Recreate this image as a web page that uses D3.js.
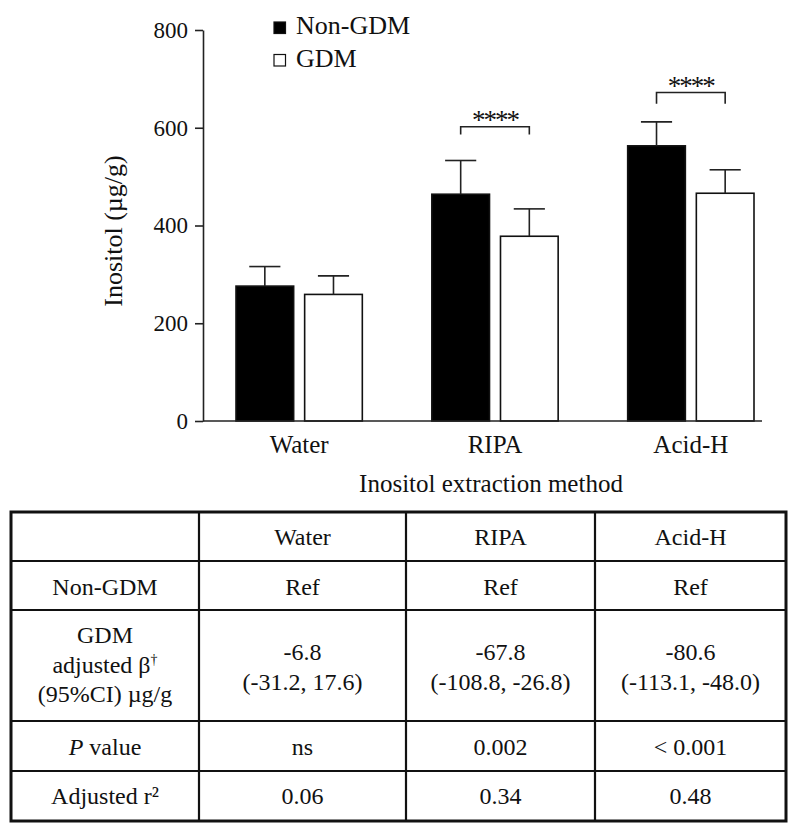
<!DOCTYPE html>
<html><head><meta charset="utf-8">
<script src="https://cdn.jsdelivr.net/npm/d3@7"></script>
<style>
body{margin:0;background:#fff}
svg{display:block}
text{font-family:"Liberation Serif","Times New Roman",Times,serif;fill:#111}
</style>
</head><body><svg id="c" width="800" height="831"></svg>
<script>
// ---------- data ----------
const categories = ["Water", "RIPA", "Acid-H"];
const groups = ["Non-GDM", "GDM"];
const meanNonGDM = [276, 464, 563];
const meanGDM = [259, 378, 466];
const sdNonGDM = [40, 69, 49];
const sdGDM = [38, 56, 48];
const yTicks = [0, 200, 400, 600, 800];
const sigCategories = ["RIPA", "Acid-H"];
const sigLevels = [602, 672];
const sigDrop = [16, 23];
const sigLabel = "****";
const xTitle = "Inositol extraction method";
const yTitle = "Inositol (µg/g)";

const tableColumns = ["", "Water", "RIPA", "Acid-H"];
const tableRowLabels = [["Non-GDM"], ["GDM", "adjusted β†", "(95%CI) µg/g"], ["P value"], ["Adjusted r²"]];
const tableRef = ["Ref", "Ref", "Ref"];
const tableBeta = ["-6.8", "-67.8", "-80.6"];
const tableCI = ["(-31.2, 17.6)", "(-108.8, -26.8)", "(-113.1, -48.0)"];
const tablePValue = ["ns", "0.002", "< 0.001"];
const tableR2 = ["0.06", "0.34", "0.48"];

// ---------- layout ----------
const svg = d3.select("#c");
const axisX = 203, plotTop = 30, plotBottom = 421, plotRight = 762;
const y = d3.scaleLinear().domain([0, 800]).range([plotBottom, plotTop]);
const x0 = d3.scaleBand().domain(categories).range([236, 754]).paddingInner(0.355).paddingOuter(0);
const x1 = d3.scaleBand().domain(groups).range([0, x0.bandwidth()]).paddingInner(0.16);

const series = [
  {key: "Non-GDM", means: meanNonGDM, sds: sdNonGDM, fill: "#000"},
  {key: "GDM", means: meanGDM, sds: sdGDM, fill: "#fff"}
];
const barData = [];
series.forEach(s => categories.forEach((c, i) => barData.push({cat: c, key: s.key, v: s.means[i], sd: s.sds[i], fill: s.fill})));

// bars
const bw = x1.bandwidth();
const g = svg.append("g");
g.selectAll("rect.bar").data(barData).join("rect")
  .attr("class", "bar")
  .attr("x", d => x0(d.cat) + x1(d.key))
  .attr("y", d => y(d.v))
  .attr("width", bw)
  .attr("height", d => y(0) - y(d.v))
  .attr("fill", d => d.fill)
  .attr("stroke", "#111")
  .attr("stroke-width", 1.6);

// error bars (upper only)
const capW = bw * 0.54;
const eb = g.selectAll("g.eb").data(barData).join("g").attr("class", "eb")
  .attr("stroke", "#222").attr("stroke-width", 1.6);
eb.append("line")
  .attr("x1", d => x0(d.cat) + x1(d.key) + bw / 2)
  .attr("x2", d => x0(d.cat) + x1(d.key) + bw / 2)
  .attr("y1", d => y(d.v))
  .attr("y2", d => y(d.v + d.sd));
eb.append("line")
  .attr("x1", d => x0(d.cat) + x1(d.key) + bw / 2 - capW / 2)
  .attr("x2", d => x0(d.cat) + x1(d.key) + bw / 2 + capW / 2)
  .attr("y1", d => y(d.v + d.sd))
  .attr("y2", d => y(d.v + d.sd));

// significance brackets
sigCategories.forEach((c, i) => {
  const xa = x0(c) + x1("Non-GDM") + bw / 2;
  const xb = x0(c) + x1("GDM") + bw / 2;
  const yl = y(sigLevels[i]);
  const yd = y(sigLevels[i] - sigDrop[i]);
  svg.append("path")
    .attr("d", `M${xa},${yd}V${yl}H${xb}V${yd}`)
    .attr("fill", "none").attr("stroke", "#222").attr("stroke-width", 1.6);
  svg.append("text")
    .attr("x", (xa + xb) / 2).attr("y", yl + 2)
    .attr("text-anchor", "middle").attr("font-size", 27)
    .attr("letter-spacing", -2)
    .text(sigLabel);
});

// y axis
const ya = svg.append("g").attr("transform", `translate(${axisX},0)`)
  .call(d3.axisLeft(y).tickValues(yTicks).tickSize(8).tickPadding(7).tickSizeOuter(0).tickFormat(d3.format("d")));
ya.selectAll("path,line").attr("stroke", "#222").attr("stroke-width", 1.6);
ya.selectAll("text").attr("font-size", 23).attr("fill", "#111")
  .attr("font-family", "'Liberation Serif','Times New Roman',serif");

// x axis line
svg.append("line").attr("x1", axisX).attr("x2", plotRight).attr("y1", y(0)).attr("y2", y(0))
  .attr("stroke", "#222").attr("stroke-width", 1.6);
const xa = svg.append("g").attr("transform", `translate(0,${y(0)})`)
  .call(d3.axisBottom(x0).tickSize(0).tickPadding(14));
xa.select(".domain").remove();
xa.selectAll("text").attr("font-size", 25).attr("fill", "#111")
  .attr("font-family", "'Liberation Serif','Times New Roman',serif");

// axis titles
svg.append("text").attr("x", 491).attr("y", 492).attr("text-anchor", "middle")
  .attr("font-size", 25).text(xTitle);
svg.append("text").attr("transform", "translate(122,231) rotate(-90)").attr("text-anchor", "middle")
  .attr("font-size", 26).text(yTitle);

// legend
const leg = svg.append("g");
series.forEach((s, i) => {
  const ly = 22 + i * 32.5;
  leg.append("rect").attr("x", 274).attr("y", ly).attr("width", 11.5).attr("height", 11.5)
    .attr("fill", s.fill).attr("stroke", "#111").attr("stroke-width", 1.2);
  leg.append("text").attr("x", 296).attr("y", ly + 12).attr("font-size", 26).text(s.key);
});

// ---------- table ----------
const colX = [11, 199, 406, 595, 786];
const rowY = [512, 561, 610, 721, 771, 821];
const tg = svg.append("g");
colX.slice(1, -1).forEach(cx => tg.append("line").attr("x1", cx).attr("x2", cx).attr("y1", rowY[0]).attr("y2", rowY[rowY.length - 1])
  .attr("stroke", "#111").attr("stroke-width", 2.2));
rowY.slice(1, -1).forEach(ry => tg.append("line").attr("x1", colX[0]).attr("x2", colX[colX.length - 1]).attr("y1", ry).attr("y2", ry)
  .attr("stroke", "#111").attr("stroke-width", 2.2));
tg.append("rect").attr("x", colX[0]).attr("y", rowY[0]).attr("width", colX[4] - colX[0]).attr("height", rowY[5] - rowY[0])
  .attr("fill", "none").attr("stroke", "#111").attr("stroke-width", 3);

const cx = i => (colX[i] + colX[i + 1]) / 2;
const fs = 24;
function cell(i, yb, txt) {
  return tg.append("text").attr("x", cx(i)).attr("y", yb).attr("text-anchor", "middle").attr("font-size", fs).text(txt);
}
// header
tableColumns.forEach((t, i) => { if (t) cell(i, 545, t); });
// row: Non-GDM
cell(0, 595, tableRowLabels[0][0]);
tableRef.forEach((t, i) => cell(i + 1, 595, t));
// row: GDM beta
const gdmLineY = [643, 673, 702];
tableRowLabels[1].forEach((t, k) => {
  const el = tg.append("text").attr("x", cx(0)).attr("y", gdmLineY[k]).attr("text-anchor", "middle").attr("font-size", fs);
  if (t.endsWith("†")) {
    el.append("tspan").text(t.slice(0, -1));
    el.append("tspan").attr("font-size", 14).attr("dy", -9).text("†");
  } else el.text(t);
});
tableBeta.forEach((t, i) => cell(i + 1, 660, t));
tableCI.forEach((t, i) => cell(i + 1, 690, t));
// row: P value
{
  const el = tg.append("text").attr("x", cx(0)).attr("y", 755).attr("text-anchor", "middle").attr("font-size", fs);
  el.append("tspan").attr("font-style", "italic").text(tableRowLabels[2][0].split(" ")[0]);
  el.append("tspan").text(" " + tableRowLabels[2][0].split(" ").slice(1).join(" "));
}
tablePValue.forEach((t, i) => cell(i + 1, 755, t));
// row: r2
cell(0, 804, tableRowLabels[3][0]);
tableR2.forEach((t, i) => cell(i + 1, 804, t));
</script>
</body></html>
